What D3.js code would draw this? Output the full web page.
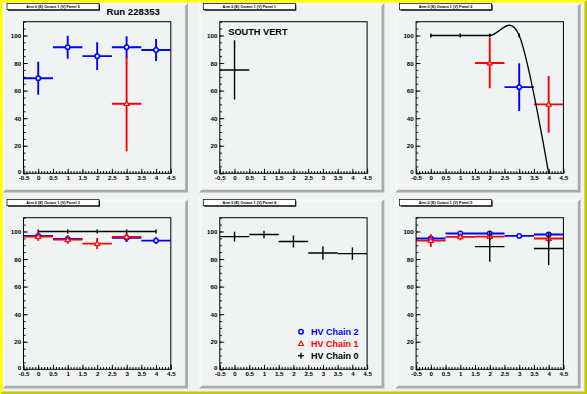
<!DOCTYPE html>
<html><head><meta charset="utf-8">
<script src="https://cdn.jsdelivr.net/npm/d3@7"></script>
<style>html,body{margin:0;padding:0;background:#eff3f3;overflow:hidden}</style>
</head><body><svg id="c" width="587" height="394"></svg>
<script>
// ---------- data ----------
const xBins = [0, 1, 2, 3, 4];
const xTickValues = [-0.5, 0, 0.5, 1, 1.5, 2, 2.5, 3, 3.5, 4, 4.5];
const xTickLabels = ["-0.5", "0", "0.5", "1", "1.5", "2", "2.5", "3", "3.5", "4", "4.5"];
const yTickValues = [0, 20, 40, 60, 80, 100];
const yTickLabels = ["0", "20", "40", "60", "80", "100"];
const padTitles = ["Arm 0 (E) Octant 1 (V) Panel 0", "Arm 0 (E) Octant 1 (V) Panel 1", "Arm 0 (E) Octant 1 (V) Panel 2",
                   "Arm 0 (E) Octant 1 (V) Panel 3", "Arm 0 (E) Octant 1 (V) Panel 4", "Arm 0 (E) Octant 1 (V) Panel 5"];
const runLabel = "Run 228353";
const sideLabel = "SOUTH VERT";
const legendLabels = ["HV Chain 2", "HV Chain 1", "HV Chain 0"];

// panel 0
const p0Chain2 = [69, 91.5, 85, 91.5, 89.5];
const p0Chain2Err = [12, 8.3, 10, 8, 8];
const p0Chain1 = [null, null, null, 50.5, null];
const p0Chain1Err = [0, 0, 0, 34.5, 0];
// panel 1
const p1Chain0 = [75, null, null, null, null];
const p1Chain0Err = [21.5, 0, 0, 0, 0];
// panel 2
const p2Chain2 = [null, null, null, 62.5, null];
const p2Chain2Err = [0, 0, 0, 17.3, 0];
const p2Chain1 = [null, null, 80, null, 50];
const p2Chain1Err = [0, 0, 18.3, 0, 20.6];
const p2Chain0 = [100, 100, 100, 100, 0];
const p2Chain0Err = [1.5, 1.5, 1.5, 1.5, 0];
// panel 3
const p3Chain2 = [96.8, 94.6, null, 95.4, 93.4];
const p3Chain2Err = [2, 2.5, 0, 3, 2.5];
const p3Chain1 = [96.3, 94.1, 91.2, 96.1, null];
const p3Chain1Err = [3, 3, 4, 2.7, 0];
const p3Chain0 = [100, 100, 100, 100, 100];
const p3Chain0Err = [1.5, 1.5, 1.5, 1.5, 1.5];
// panel 4
const p4Chain0 = [96.3, 97.8, 92.7, 84.4, 83.9];
const p4Chain0Err = [3.5, 2.7, 4.3, 4.9, 4.4];
// panel 5
const p5Chain2 = [94.9, 98.5, 98.5, 96.8, 97.8];
const p5Chain2Err = [1.5, 1.5, 1.5, 1.5, 1.5];
const p5Chain1 = [93.4, 96.1, 96.3, null, 94.9];
const p5Chain1Err = [4.6, 2.4, 2.5, 0, 3.4];
const p5Chain0 = [null, null, 89, null, 87.6];
const p5Chain0Err = [0, 0, 11, 0, 12];

// ---------- styles ----------
const BG = "#eff3f3";
const BLUE = "#0000ff", RED = "#ff0000", BLACK = "#000000";
const FONT = "'Liberation Sans', Arial, Helvetica, sans-serif";

function series(y, e, color, marker, opts) {
  return Object.assign({ y, e, color, marker, xerr: 0.5, curve: false }, opts || {});
}
const panels = [
  { series: [series(p0Chain2, p0Chain2Err, BLUE, "circle"), series(p0Chain1, p0Chain1Err, RED, "star")] },
  { series: [series(p1Chain0, p1Chain0Err, BLACK, "none")] },
  { series: [series(p2Chain2, p2Chain2Err, BLUE, "circle"), series(p2Chain1, p2Chain1Err, RED, "star"),
             series(p2Chain0, p2Chain0Err, BLACK, "dot", { xerr: 0, curve: true })] },
  { series: [series(p3Chain0, p3Chain0Err, BLACK, "none", { xerr: 0, curve: true }),
             series(p3Chain2, p3Chain2Err, BLUE, "circle"), series(p3Chain1, p3Chain1Err, RED, "star")] },
  { series: [series(p4Chain0, p4Chain0Err, BLACK, "none")] },
  { series: [series(p5Chain2, p5Chain2Err, BLUE, "circle"), series(p5Chain1, p5Chain1Err, RED, "star"),
             series(p5Chain0, p5Chain0Err, BLACK, "none")] }
];

// ---------- canvas ----------
const svg = d3.select("#c");
svg.append("rect").attr("width", 587).attr("height", 394).attr("fill", BG);

const PW = 185.5, PH = 189.5;
const FL = 21, FT = 18.7, FW = 147.3, FH = 151.6;

panels.forEach((p, i) => {
  const c = i % 3, r = Math.floor(i / 3);
  const px = 2.5 + c * 196.3, py = 3 + r * 196;
  const g = svg.append("g").attr("transform", `translate(${px},${py})`);
  g.append("rect").attr("width", PW).attr("height", PH).attr("fill", BG);
  const s = 2.8;
  g.append("polygon").attr("fill", "#a9abab")
    .attr("points", `${PW},0 ${PW},${PH} 0,${PH} ${s},${PH - s} ${PW - s},${PH - s} ${PW - s},${s}`);
  g.append("polygon").attr("fill", "#ffffff")
    .attr("points", `0,0 ${PW},0 ${PW - s},${s} ${s},${s} ${s},${PH - s} 0,${PH}`).attr("opacity", 0.5);

  // title box
  g.append("rect").attr("x", 5.5).attr("y", 1.5).attr("width", 92).attr("height", 6.2).attr("fill", "#000");
  g.append("rect").attr("x", 4.5).attr("y", 0.5).attr("width", 92).attr("height", 6.2)
    .attr("fill", "#fff").attr("stroke", "#000").attr("stroke-width", 0.7);
  g.append("text").attr("x", 50.5).attr("y", 5.2).attr("text-anchor", "middle")
    .attr("font-family", FONT).attr("font-weight", "bold").attr("font-size", 3.8).text(padTitles[i]);

  const x = d3.scaleLinear().domain([-0.5, 4.5]).range([FL, FL + FW]);
  const y = d3.scaleLinear().domain([0, 110]).range([FT + FH, FT]);

  g.append("rect").attr("x", FL).attr("y", FT).attr("width", FW).attr("height", FH)
    .attr("fill", BG).attr("stroke", "none");

  const clip = "clip" + i;
  g.append("clipPath").attr("id", clip).append("rect").attr("x", FL).attr("y", FT).attr("width", FW).attr("height", FH);
  const plot = g.append("g").attr("clip-path", `url(#${clip})`);

  p.series.forEach(sr => {
    const pts = xBins.map((xv, k) => ({ x: xv, y: sr.y[k], e: sr.e[k] })).filter(d => d.y !== null);
    const sw = sr.color === BLACK ? 1.4 : 1.9;
    if (sr.curve) {
      const line = d3.line().x(d => x(d.x)).y(d => y(d.y)).curve(d3.curveCardinal.tension(0));
      plot.append("path").attr("d", line(pts)).attr("fill", "none").attr("stroke", sr.color).attr("stroke-width", 1.3);
    }
    pts.forEach(d => {
      if (sr.xerr > 0) {
        plot.append("line").attr("x1", x(d.x - sr.xerr)).attr("x2", x(d.x + sr.xerr))
          .attr("y1", y(d.y)).attr("y2", y(d.y)).attr("stroke", sr.color).attr("stroke-width", sw);
      }
      if (d.e > 0) {
        plot.append("line").attr("x1", x(d.x)).attr("x2", x(d.x))
          .attr("y1", y(d.y + d.e)).attr("y2", y(d.y - d.e)).attr("stroke", sr.color).attr("stroke-width", sw);
      }
      drawMarker(plot, sr.marker, x(d.x), y(d.y), sr.color);
    });
  });

  // frame
  g.append("rect").attr("x", FL).attr("y", FT).attr("width", FW).attr("height", FH)
    .attr("fill", "none").attr("stroke", "#000").attr("stroke-width", 1);

  // axes
  const xMinor = d3.range(-5, 46).map(v => v / 10);
  const yMinor = d3.range(0, 111, 5);
  g.append("g").attr("transform", `translate(0,${FT + FH})`)
    .call(d3.axisBottom(x).tickValues(xMinor).tickSize(-2.3).tickFormat(""))
    .call(a => a.select(".domain").remove());
  g.append("g").attr("transform", `translate(0,${FT + FH})`)
    .call(d3.axisBottom(x).tickValues(xTickValues).tickSize(-4.5).tickPadding(2.6)
      .tickFormat((d, k) => xTickLabels[k]))
    .call(a => a.select(".domain").remove())
    .call(a => a.selectAll("text").attr("font-family", FONT).attr("font-weight", "bold").attr("font-size", 6.2).attr("fill", "#000"));
  g.append("g").attr("transform", `translate(${FL},0)`)
    .call(d3.axisLeft(y).tickValues(yMinor).tickSize(-2.2).tickFormat(""))
    .call(a => a.select(".domain").remove());
  g.append("g").attr("transform", `translate(${FL},0)`)
    .call(d3.axisLeft(y).tickValues(yTickValues).tickSize(-4.4).tickPadding(2.4)
      .tickFormat((d, k) => yTickLabels[k]))
    .call(a => a.select(".domain").remove())
    .call(a => a.selectAll("text").attr("font-family", FONT).attr("font-weight", "bold").attr("font-size", 6.2)
      .attr("fill", "#000").attr("dy", (d) => d === 0 ? "0.05em" : "0.32em"));
  g.selectAll(".tick line").attr("stroke", "#000").attr("stroke-width", 0.9);

  if (i === 0) {
    g.append("text").attr("x", 104).attr("y", 12.3).attr("font-family", FONT).attr("font-weight", "bold")
      .attr("font-size", 9.6).text(runLabel);
  }
  if (i === 1) {
    g.append("text").attr("x", 29.5).attr("y", 31.7).attr("font-family", FONT).attr("font-weight", "bold")
      .attr("font-size", 9.2).text(sideLabel);
  }
  if (i === 4) {
    const lcol = [BLUE, RED, BLACK], lmark = ["circle", "star", "plus"];
    legendLabels.forEach((lab, k) => {
      const ly = 132.7 + k * 12;
      drawMarker(g, lmark[k], 102.2, ly, lcol[k]);
      g.append("text").attr("x", 112.2).attr("y", ly + 3.3).attr("font-family", FONT).attr("font-weight", "bold")
        .attr("font-size", 9).attr("fill", lcol[k]).text(lab);
    });
  }
});

function drawMarker(sel, type, cx, cy, color) {
  if (type === "circle") {
    sel.append("circle").attr("cx", cx).attr("cy", cy).attr("r", 2.2)
      .attr("fill", BG).attr("stroke", color).attr("stroke-width", 1.5);
  } else if (type === "star") {
    sel.append("path").attr("d", d3.symbol(d3.symbolTriangle, 11)())
      .attr("transform", `translate(${cx},${cy + 0.4})`)
      .attr("fill", BG).attr("stroke", color).attr("stroke-width", 1.1);
  } else if (type === "plus") {
    sel.append("line").attr("x1", cx - 3).attr("x2", cx + 3).attr("y1", cy).attr("y2", cy).attr("stroke", color).attr("stroke-width", 1.3);
    sel.append("line").attr("x1", cx).attr("x2", cx).attr("y1", cy - 3).attr("y2", cy + 3).attr("stroke", color).attr("stroke-width", 1.3);
  } else if (type === "dot") {
    sel.append("circle").attr("cx", cx).attr("cy", cy).attr("r", 0.9).attr("fill", color);
  }
}

// canvas border (yellow, raised)
const b = 2.6;
svg.append("polygon").attr("fill", "#ffff00")
  .attr("points", `0,0 587,0 ${587 - b},${b} ${b},${b} ${b},${394 - b} 0,394`);
svg.append("polygon").attr("fill", "#c8c800")
  .attr("points", `587,0 587,394 0,394 ${b},${394 - b} ${587 - b},${394 - b} ${587 - b},${b}`);
</script>
</body></html>
